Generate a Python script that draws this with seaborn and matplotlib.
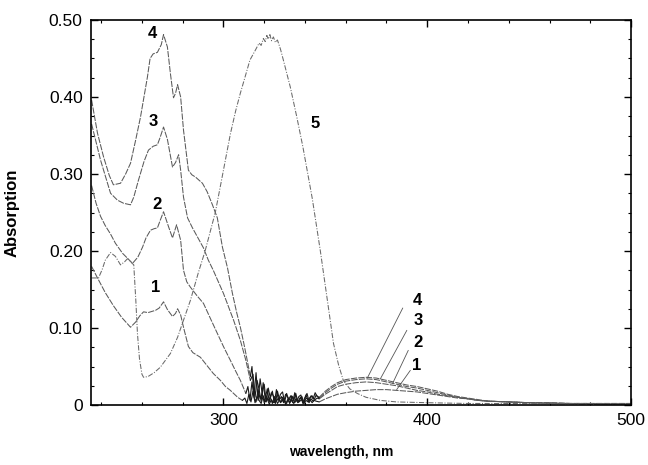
"""
Absorption spectra of five samples (curves 1-5), recreated with seaborn.
Values were read off the published figure by eye.
"""

import matplotlib

matplotlib.use("Agg")

import matplotlib.pyplot as plt
import numpy as np
import pandas as pd
import seaborn as sns
from matplotlib.ticker import FixedLocator, FuncFormatter, MultipleLocator

# ---------------------------------------------------------------------------
# Data (wavelength in nm, absorption)
# ---------------------------------------------------------------------------

# main UV part of curves 1-4
C4_NM = [235.3, 238.2, 241.2, 244, 246, 249.5, 252, 254.4, 257, 259.3, 261,
         262.7, 264, 265.5, 267.6, 269.5, 270.6, 272.5, 274, 275.5, 276.5,
         277.5, 279, 280.4, 282.8, 284.5, 286.3, 289.7, 292, 294.6, 297,
         299.5, 302, 304.4, 306.5, 308.3, 310, 311, 313.2]
C4_AB = [0.396, 0.353, 0.322, 0.298, 0.286, 0.288, 0.300, 0.314, 0.345, 0.374,
         0.400, 0.426, 0.450, 0.456, 0.458, 0.468, 0.481, 0.465, 0.430, 0.399,
         0.405, 0.416, 0.400, 0.357, 0.305, 0.299, 0.296, 0.288, 0.277, 0.260,
         0.243, 0.205, 0.178, 0.145, 0.120, 0.101, 0.080, 0.067, 0.037]

C3_NM = [235.3, 239.7, 244.6, 248, 251, 254.4, 256, 258.3, 261, 263.2, 265.5,
         267.6, 269, 270.6, 272.5, 275, 276.5, 278, 279, 280.4, 282.4, 284.8,
         287.3, 290.2, 292.6, 295, 300, 305, 308.3, 311, 313.2]
C3_AB = [0.365, 0.318, 0.275, 0.266, 0.262, 0.260, 0.270, 0.292, 0.316, 0.331,
         0.336, 0.338, 0.348, 0.361, 0.345, 0.309, 0.315, 0.325, 0.305, 0.270,
         0.243, 0.230, 0.218, 0.204, 0.188, 0.175, 0.145, 0.110, 0.084, 0.058,
         0.032]

C2_NM = [235.3, 237.5, 239.7, 242, 244.6, 247, 250.5, 255.4, 258, 260.3, 262,
         264.2, 266, 267.6, 269, 270.6, 273, 275, 277, 279, 280.4, 282, 283.8,
         287, 290.2, 293.5, 297, 300, 303.4, 306, 308.3, 311]
C2_AB = [0.285, 0.262, 0.245, 0.233, 0.222, 0.210, 0.197, 0.184, 0.192, 0.205,
         0.217, 0.227, 0.229, 0.230, 0.240, 0.251, 0.232, 0.217, 0.234, 0.214,
         0.175, 0.160, 0.153, 0.142, 0.132, 0.113, 0.093, 0.076, 0.058, 0.044,
         0.032, 0.015]

C1_NM = [235.3, 238, 242, 246, 250, 254.4, 257, 259, 260.8, 263, 266.7, 268.5,
         270.6, 272.5, 275, 276.5, 277.5, 279, 280.4, 282.8, 285, 288.7, 292,
         295, 298.5, 301, 303.4, 305, 307, 309.3]
C1_AB = [0.180, 0.166, 0.146, 0.129, 0.114, 0.101, 0.108, 0.116, 0.121, 0.120,
         0.123, 0.126, 0.134, 0.124, 0.115, 0.119, 0.125, 0.117, 0.101, 0.076,
         0.068, 0.062, 0.051, 0.041, 0.032, 0.024, 0.019, 0.015, 0.010, 0.006]

# noisy stretch near zero (one reading per nm), with its first wavelength
N4_START, N4 = 314, [0.050, 0.012, 0.042, 0.006, 0.034, 0.015, 0.027, 0.004,
                     0.022, 0.009, 0.018, 0.003, 0.020, 0.006, 0.014, 0.017,
                     0.004, 0.015, 0.007, 0.012, 0.003, 0.016, 0.005, 0.011,
                     0.013, 0.003, 0.010, 0.015, 0.005, 0.012, 0.008, 0.016,
                     0.011]
N3_START, N3 = 314.5, [0.040, 0.010, 0.032, 0.020, 0.005, 0.029, 0.008, 0.021,
                       0.004, 0.016, 0.012, 0.002, 0.018, 0.007, 0.011, 0.003,
                       0.014, 0.010, 0.002, 0.012, 0.006, 0.015, 0.004, 0.009,
                       0.011, 0.002, 0.013, 0.006, 0.010, 0.012, 0.007, 0.013]
N2_START, N2 = 312, [0.024, 0.006, 0.030, 0.010, 0.004, 0.020, 0.008, 0.015,
                     0.003, 0.012, 0.006, 0.010, 0.002, 0.011, 0.005, 0.009,
                     0.003, 0.010, 0.006, 0.002, 0.009, 0.005, 0.011, 0.003,
                     0.008, 0.004, 0.010, 0.002, 0.007, 0.009, 0.003, 0.008,
                     0.005, 0.007, 0.009]
N1_START, N1 = 310.5, [0.009, 0.002, 0.014, 0.004, 0.018, 0.003, 0.011, 0.006,
                       0.002, 0.012, 0.004, 0.008, 0.001, 0.007, 0.003, 0.009,
                       0.002, 0.006, 0.004, 0.008, 0.001, 0.007, 0.003, 0.006,
                       0.002, 0.008, 0.003, 0.005, 0.007, 0.002, 0.006, 0.004,
                       0.007, 0.003, 0.006, 0.005]

# weak visible band of curves 1-4
BAND_NM = [347, 350, 353, 356, 360, 365, 370, 375, 380, 385, 390, 395, 400,
           405, 410, 415, 420, 425, 430, 440, 450, 460, 470, 480, 490, 500]
B4_AB = [0.010, 0.018, 0.024, 0.029, 0.033, 0.035, 0.036, 0.035, 0.032, 0.029,
         0.026, 0.024, 0.021, 0.018, 0.014, 0.011, 0.009, 0.007, 0.005, 0.004,
         0.003, 0.003, 0.002, 0.002, 0.002, 0.002]
B3_AB = [0.009, 0.016, 0.022, 0.027, 0.031, 0.033, 0.034, 0.033, 0.030, 0.027,
         0.024, 0.022, 0.019, 0.016, 0.013, 0.010, 0.008, 0.006, 0.005, 0.004,
         0.003, 0.003, 0.002, 0.002, 0.002, 0.002]
B2_AB = [0.008, 0.014, 0.019, 0.024, 0.027, 0.029, 0.030, 0.029, 0.027, 0.025,
         0.022, 0.019, 0.017, 0.014, 0.012, 0.010, 0.008, 0.006, 0.005, 0.004,
         0.003, 0.002, 0.002, 0.002, 0.001, 0.001]
B1_AB = [0.004, 0.008, 0.011, 0.014, 0.016, 0.018, 0.019, 0.020, 0.020, 0.019,
         0.018, 0.017, 0.015, 0.013, 0.011, 0.009, 0.008, 0.006, 0.005, 0.004,
         0.003, 0.002, 0.002, 0.001, 0.001, 0.001]

# curve 5 over the whole range
C5_NM = [235.3, 238.7, 240.5, 242, 244.6, 247, 249.5, 251.5, 252.9, 254.4, 256,
         257, 257.8, 258.8, 260, 260.8, 263, 266, 269, 274, 277.5, 283.8,
         287.7, 291, 296, 299.5, 303.4, 306, 308.3, 310.5, 313, 315.5, 317.5,
         318.5, 319.6, 320.5, 321.3, 322, 322.8, 323.6, 324.5, 325.5, 326.5,
         328, 329.4, 332.8, 336, 339, 343.6, 347.5, 351, 354, 356.5, 358.8,
         362, 365.7, 370, 377, 385, 400, 420, 450, 500]
C5_AB = [0.165, 0.165, 0.176, 0.188, 0.198, 0.193, 0.182, 0.186, 0.190, 0.186,
         0.182, 0.136, 0.093, 0.060, 0.040, 0.036, 0.037, 0.042, 0.049, 0.067,
         0.088, 0.136, 0.172, 0.200, 0.250, 0.298, 0.352, 0.382, 0.405, 0.425,
         0.448, 0.460, 0.470, 0.467, 0.476, 0.472, 0.480, 0.475, 0.481, 0.473,
         0.478, 0.471, 0.474, 0.462, 0.448, 0.413, 0.374, 0.335, 0.268, 0.201,
         0.136, 0.080, 0.052, 0.032, 0.021, 0.015, 0.010, 0.006, 0.004, 0.003,
         0.002, 0.002, 0.001]

# curve numbers written on the plot
PEAK_LABELS = ["4", "3", "2", "1", "5"]
PEAK_LABEL_NM = [265.0, 265.7, 267.5, 266.7, 345.0]
PEAK_LABEL_AB = [0.483, 0.368, 0.260, 0.152, 0.366]

BAND_LABELS = ["4", "3", "2", "1"]
BAND_LABEL_NM = [395.0, 395.5, 395.5, 395.0]
BAND_LABEL_AB = [0.136, 0.110, 0.081, 0.051]
# leader lines: label end -> curve end
LEADER_FROM_NM = [388.0, 390.0, 390.7, 391.7]
LEADER_FROM_AB = [0.126, 0.097, 0.071, 0.045]
LEADER_TO_NM = [370.6, 377.0, 383.0, 385.0]
LEADER_TO_AB = [0.035, 0.034, 0.028, 0.020]

LINE_COLOR = "#5a5a5a"
NOISE_COLOR = "#1a1a1a"


def pieces(name, nm, ab, noise_start, noise, band):
    """Return (smooth UV part, noisy stretch, visible band) as frames."""
    noise_nm = noise_start + np.arange(len(noise))
    uv = pd.DataFrame({"curve": name, "nm": nm, "absorption": ab})
    # the noisy stretch joins the end of the UV part to the start of the band
    noisy = pd.DataFrame({
        "curve": name,
        "nm": [nm[-1]] + list(noise_nm) + [BAND_NM[0]],
        "absorption": [ab[-1]] + list(noise) + [band[0]],
    })
    vis = pd.DataFrame({"curve": name, "nm": BAND_NM, "absorption": band})
    return uv, noisy, vis


curves = [
    pieces("1", C1_NM, C1_AB, N1_START, N1, B1_AB),
    pieces("2", C2_NM, C2_AB, N2_START, N2, B2_AB),
    pieces("3", C3_NM, C3_AB, N3_START, N3, B3_AB),
    pieces("4", C4_NM, C4_AB, N4_START, N4, B4_AB),
]
curve5 = pd.DataFrame({"curve": "5", "nm": C5_NM, "absorption": C5_AB})

sns.set_theme(style="ticks")
plt.rcParams["font.family"] = ["Liberation Sans", "DejaVu Sans"]
plt.rcParams.update({
    "text.color": "black",
    "axes.labelcolor": "black",
    "xtick.color": "black",
    "ytick.color": "black",
})

fig = plt.figure(figsize=(6.48, 4.65), dpi=100)
ax = fig.add_axes([0.1404, 0.129, 0.8334, 0.828])

for uv, noisy, vis in curves:
    for part in (uv, vis):
        sns.lineplot(
            data=part, x="nm", y="absorption", ax=ax, sort=False, estimator=None,
            color=LINE_COLOR, linewidth=0.75, linestyle=(0, (6, 1.2)),
            legend=False,
        )
    sns.lineplot(
        data=noisy, x="nm", y="absorption", ax=ax, sort=False, estimator=None,
        color=NOISE_COLOR, linewidth=0.8, legend=False,
    )
sns.lineplot(
    data=curve5, x="nm", y="absorption", ax=ax, sort=False, estimator=None,
    color="#6a6a6a", linewidth=0.75, linestyle=(0, (5, 1.5, 1, 1.5)),
    legend=False,
)

# leader lines for the band labels
for x0, y0, x1, y1 in zip(LEADER_FROM_NM, LEADER_FROM_AB, LEADER_TO_NM, LEADER_TO_AB):
    ax.plot([x0, x1], [y0, y1], color="#555555", linewidth=0.6)

for txt, x, y in zip(PEAK_LABELS, PEAK_LABEL_NM, PEAK_LABEL_AB):
    ax.text(x, y, txt, ha="center", va="center", fontsize=12, fontweight="bold")
for txt, x, y in zip(BAND_LABELS, BAND_LABEL_NM, BAND_LABEL_AB):
    ax.text(x, y, txt, ha="center", va="center", fontsize=12, fontweight="bold")

ax.set_xlim(235, 500)
ax.set_ylim(0, 0.5)
ax.xaxis.set_major_locator(FixedLocator([300, 400, 500]))
ax.xaxis.set_minor_locator(MultipleLocator(20))
ax.yaxis.set_major_locator(MultipleLocator(0.1))
ax.yaxis.set_minor_locator(MultipleLocator(0.025))
ax.yaxis.set_major_formatter(FuncFormatter(lambda v, _: "0" if abs(v) < 1e-9 else f"{v:.2f}"))

ax.tick_params(which="both", direction="in", top=True, right=True, labelsize=12.5,
               pad=6)
ax.tick_params(which="major", length=5, width=1)
ax.tick_params(which="minor", length=2.5, width=0.8)
for spine in ax.spines.values():
    spine.set_linewidth(1.2)
    spine.set_color("black")

ax.set_xlabel("wavelength, nm", fontsize=10, fontweight="bold")
ax.set_ylabel("Absorption", fontsize=12, fontweight="bold")
ax.xaxis.set_label_coords(0.463, -0.105)
ax.yaxis.set_label_coords(-0.133, 0.5)

fig.savefig("out.png", dpi=100)
plt.close("all")
